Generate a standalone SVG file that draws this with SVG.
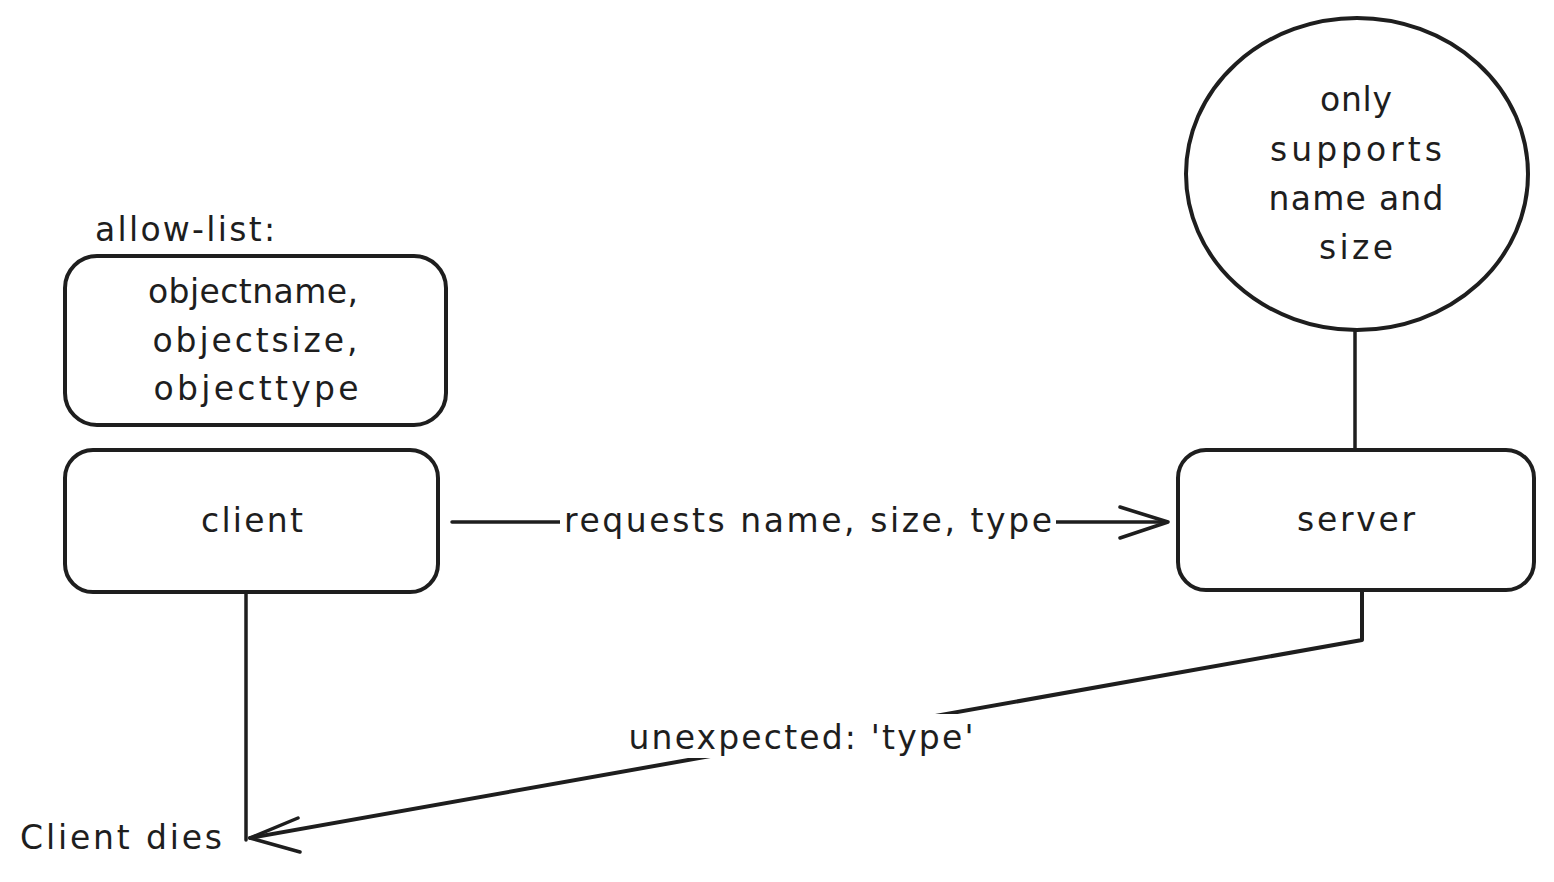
<svg xmlns="http://www.w3.org/2000/svg" width="1554" height="882" viewBox="0 0 1554 882">
<style>
.shape{fill:none;stroke:#1e1e1e;stroke-width:4;stroke-linecap:round;stroke-linejoin:round}
.line{fill:none;stroke:#1e1e1e;stroke-width:3.5;stroke-linecap:round;stroke-linejoin:round}
.t{font-family:"DejaVu Sans","Liberation Sans",sans-serif;font-size:33px;fill:#1e1e1e}
.c{text-anchor:middle}
</style>
<rect width="1554" height="882" fill="#ffffff"/>
<g id="connectors">
  <line class="line" x1="452" y1="522" x2="1166" y2="522"/>
  <polyline class="line" points="1120,507 1168,522 1120,538"/>
  <rect x="560" y="502" width="496" height="40" fill="#ffffff"/>
  <text class="t c" x="808" y="532" textLength="488" lengthAdjust="spacing">requests name, size, type</text>
  <line class="line" x1="1355" y1="330" x2="1355" y2="450"/>
  <line class="line" x1="246" y1="592" x2="246" y2="840"/>
  <polyline class="line" points="1362,592 1362,640 250,838" style="stroke-width:4"/>
  <polyline class="line" points="298,818 250,838 300,852"/>
  <rect x="625" y="714" width="355" height="44" fill="#ffffff"/>
  <text class="t c" x="801" y="749" textLength="345" lengthAdjust="spacing">unexpected: 'type'</text>
</g>
<g id="allow-list-label">
  <text class="t" x="95" y="241" textLength="180" lengthAdjust="spacing">allow-list:</text>
</g>
<g id="allow-list">
  <rect class="shape" x="65" y="256" width="381" height="169" rx="32"/>
  <text class="t c" x="253" y="303" textLength="210" lengthAdjust="spacing">objectname,</text>
  <text class="t c" x="255" y="352" textLength="205" lengthAdjust="spacing">objectsize,</text>
  <text class="t c" x="256" y="400" textLength="205" lengthAdjust="spacing">objecttype</text>
</g>
<g id="client">
  <rect class="shape" x="65" y="450" width="373" height="142" rx="28"/>
  <text class="t c" x="252" y="532" textLength="102" lengthAdjust="spacing">client</text>
</g>
<g id="server">
  <rect class="shape" x="1178" y="450" width="356" height="140" rx="28"/>
  <text class="t c" x="1356" y="531" textLength="118" lengthAdjust="spacing">server</text>
</g>
<g id="note">
  <ellipse class="shape" cx="1357" cy="174" rx="171" ry="156"/>
  <text class="t c" x="1356" y="111" textLength="72" lengthAdjust="spacing">only</text>
  <text class="t c" x="1356" y="161" textLength="172" lengthAdjust="spacing">supports</text>
  <text class="t c" x="1356" y="210" textLength="175" lengthAdjust="spacing">name and</text>
  <text class="t c" x="1356" y="259" textLength="74" lengthAdjust="spacing">size</text>
</g>
<g id="client-dies">
  <text class="t" x="20" y="849" textLength="202" lengthAdjust="spacing">Client dies</text>
</g>
</svg>
